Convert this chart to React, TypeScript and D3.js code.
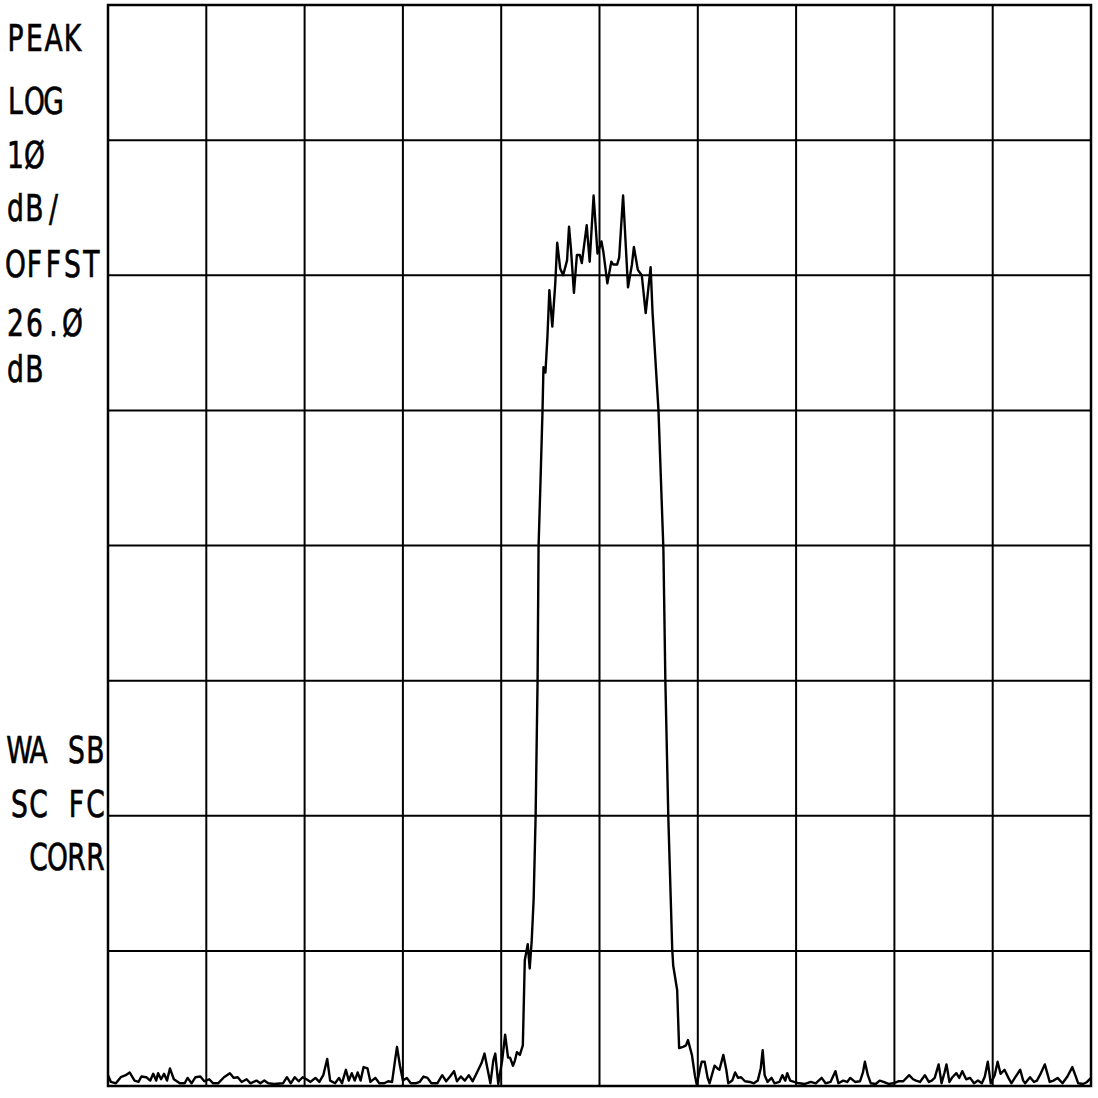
import * as d3 from "d3";

// trace: frequency in divisions (0..10), level in dB below reference
const freqDiv = [
  0.00, 0.03, 0.08, 0.13, 0.18, 0.22, 0.27, 0.31, 0.34, 0.39, 0.43, 0.46, 0.49, 0.51, 0.54, 0.57, 0.60, 0.63, 0.67, 0.73,
  0.78, 0.81, 0.85, 0.89, 0.94, 0.98,
  1.03, 1.07, 1.12, 1.18, 1.24, 1.28, 1.32, 1.36, 1.41, 1.45, 1.51, 1.55, 1.59, 1.63, 1.69, 1.78, 1.82, 1.86, 1.90, 1.94, 1.98,
  2.02, 2.06, 2.11, 2.15, 2.19, 2.23, 2.26, 2.31, 2.35, 2.38, 2.42, 2.45, 2.48, 2.51, 2.54, 2.57, 2.60, 2.64, 2.67, 2.72,
  2.76, 2.81, 2.85, 2.89, 2.92, 2.94, 2.97, 3.00,
  3.04, 3.08, 3.13, 3.17, 3.21, 3.25, 3.29, 3.35, 3.40, 3.44, 3.48, 3.52, 3.55, 3.59, 3.63, 3.67, 3.71, 3.75, 3.80, 3.83,
  3.86, 3.89, 3.92, 3.94, 3.97, 4.01, 4.04, 4.07, 4.09, 4.12, 4.14, 4.16, 4.19, 4.22, 4.24, 4.27, 4.29, 4.31, 4.33, 4.35,
  4.37, 4.38, 4.40, 4.42, 4.43, 4.45, 4.47, 4.49, 4.52, 4.55, 4.57, 4.60, 4.63, 4.67, 4.69, 4.71, 4.74, 4.77, 4.80, 4.82,
  4.87, 4.90, 4.94, 4.98, 5.02, 5.04, 5.08, 5.12, 5.14, 5.18, 5.20, 5.24, 5.29, 5.33, 5.35, 5.39, 5.43, 5.47, 5.52, 5.54,
  5.60, 5.65, 5.67, 5.70, 5.74, 5.75, 5.79, 5.81, 5.85, 5.88, 5.90, 5.94, 5.97, 5.99,
  6.02, 6.04, 6.07, 6.10, 6.12, 6.17, 6.20, 6.22, 6.26, 6.29, 6.31, 6.35, 6.38, 6.41, 6.44, 6.48, 6.53, 6.57, 6.61, 6.64,
  6.66, 6.68, 6.71, 6.75, 6.78, 6.83, 6.86, 6.89, 6.91, 6.94, 6.98,
  7.03, 7.09, 7.15, 7.20, 7.26, 7.30, 7.35, 7.40, 7.43, 7.48, 7.52, 7.55, 7.60, 7.65, 7.68, 7.70, 7.73, 7.76, 7.81, 7.85,
  7.89, 7.94, 7.99,
  8.04, 8.09, 8.15, 8.19, 8.22, 8.26, 8.31, 8.35, 8.38, 8.41, 8.45, 8.48, 8.51, 8.53, 8.56, 8.59, 8.63, 8.66, 8.69, 8.73,
  8.77, 8.81, 8.85, 8.89, 8.92, 8.95, 8.98,
  9.02, 9.05, 9.08, 9.12, 9.16, 9.19, 9.23, 9.28, 9.31, 9.33, 9.38, 9.42, 9.45, 9.48, 9.53, 9.58, 9.62, 9.66, 9.71, 9.76,
  9.81, 9.84, 9.87, 9.92, 9.96, 10.00,
];

const levelDb = [
  -79.2, -79.7, -79.8, -79.35, -79.2, -79.0, -79.6, -79.7, -79.3, -79.35, -79.6, -79.1, -79.6, -79.05, -79.5, -79.1, -79.6, -78.7, -79.5, -79.8,
  -79.8, -79.4, -79.8, -79.35, -79.3, -79.65,
  -79.5, -79.8, -79.8, -79.35, -79.05, -79.4, -79.35, -79.7, -79.5, -79.8, -79.6, -79.8, -79.6, -79.8, -79.85, -79.8, -79.35, -79.8, -79.35, -79.65, -79.35,
  -79.5, -79.7, -79.4, -79.7, -79.2, -78.0, -79.6, -79.8, -79.4, -79.8, -78.8, -79.6, -79.05, -79.6, -79.0, -79.6, -78.6, -78.7, -79.7, -79.4,
  -79.8, -79.8, -79.65, -79.7, -78.1, -77.1, -78.5, -79.6,
  -79.4, -79.8, -79.8, -79.7, -79.3, -79.4, -79.8, -79.8, -79.2, -79.65, -79.3, -78.9, -79.65, -79.3, -79.6, -79.2, -79.65, -79.05, -78.3, -77.6,
  -78.7, -79.8, -78.1, -77.6, -79.85, -78.1, -76.2, -77.9, -77.9, -78.5, -78.1, -77.5, -77.7, -77.0, -70.7, -69.5, -71.3, -69.3, -66.2, -60.1,
  -50.0, -40.1, -35.2, -30.1, -26.8, -27.2, -24.6, -21.1, -23.8, -20.6, -17.6, -19.5, -20.0, -18.9, -16.4, -18.1, -21.3, -18.5, -18.5, -19.1,
  -16.3, -19.0, -14.1, -18.4, -17.5, -18.3, -20.6, -19.0, -19.2, -19.2, -18.7, -14.1, -20.9, -19.2, -17.9, -19.6, -20.0, -22.8, -19.4, -22.8,
  -30.0, -40.3, -50.0, -60.1, -69.9, -71.1, -72.9, -77.2, -77.1, -77.0, -76.6, -77.7, -79.2, -79.9,
  -78.8, -78.2, -78.2, -79.4, -79.8, -78.5, -78.7, -78.8, -77.7, -78.8, -79.8, -79.6, -79.0, -79.4, -79.35, -79.65, -79.7, -79.8, -79.6, -78.7,
  -77.35, -79.2, -79.7, -79.4, -79.8, -79.7, -79.2, -79.6, -79.05, -79.6, -79.7,
  -79.8, -79.85, -79.7, -79.8, -79.4, -79.8, -79.7, -78.9, -79.8, -79.6, -79.7, -79.4, -79.7, -79.65, -79.0, -78.2, -79.2, -79.8, -79.85, -79.6,
  -79.7, -79.85, -79.8,
  -79.65, -79.65, -79.2, -79.5, -79.6, -79.7, -79.2, -79.7, -79.6, -79.4, -78.4, -79.8, -79.0, -78.4, -79.7, -79.35, -79.05, -79.4, -78.9, -79.5,
  -79.4, -79.8, -79.6, -79.8, -79.3, -78.2, -79.8,
  -79.2, -78.2, -79.1, -78.8, -79.4, -79.8, -79.35, -78.8, -79.6, -79.8, -79.35, -79.7, -79.6, -79.2, -78.4, -79.7, -79.6, -79.4, -79.8, -79.3,
  -78.6, -79.2, -79.8, -79.85, -79.7, -79.4,
];

const topLabels = ["PEAK", "LOG", "1Ø", "dB/", "OFFST", "26.Ø", "dB"];
const bottomLabels = ["WA SB", "SC FC", "CORR"];

// monospaced plotter lettering: each character centred in its own cell
function PlotText({ text, x0, y, cell, sx }: { text: string; x0: number; y: number; cell: number; sx: number }) {
  const xs = text.split("").map((_, i) => (x0 + cell * (i + 0.5)) / sx);
  return (
    <text transform={`scale(${sx},1)`} x={xs.join(" ")} y={y} textAnchor="middle">
      {text}
    </text>
  );
}

export default function App() {
  const width = 1098;
  const height = 1098;
  const left = 108;
  const right = 1091;
  const top = 5;
  const bottom = 1086;

  const x = d3.scaleLinear([0, 10], [left, right]);
  const y = d3.scaleLinear([-80, 0], [bottom, top]);
  const line = d3.line<number>((_, i) => x(freqDiv[i]), (d) => y(d));

  const topBase = [51, 114, 168, 221, 277, 336, 382];
  const bottomBase = [763, 817, 870];
  const cell = 19;
  const sx = 0.7;

  return (
    <svg width={width} height={height} style={{ position: "absolute", left: 0, top: 0, background: "#fff" }}>
      <g stroke="#000" strokeWidth={2}>
        {d3.range(0, 11).map((d) => (
          <line key={"v" + d} x1={x(d)} x2={x(d)} y1={top} y2={bottom} />
        ))}
        {d3.range(-80, 1, 10).map((d) => (
          <line key={"h" + d} x1={left} x2={right} y1={y(d)} y2={y(d)} />
        ))}
      </g>
      <rect x={left} y={top} width={right - left} height={bottom - top} fill="none" stroke="#000" strokeWidth={2.5} />
      <path d={line(levelDb) ?? ""} fill="none" stroke="#000" strokeWidth={2.4} strokeLinejoin="round" />
      <g fontFamily="'DejaVu Sans', sans-serif" fontSize={38} fill="#000" stroke="#000" strokeWidth={0.7}>
        {topLabels.map((t, i) => (
          <PlotText key={t + i} text={t} x0={6} y={topBase[i]} cell={cell} sx={sx} />
        ))}
        {bottomLabels.map((t, i) => (
          <PlotText key={t} text={t} x0={105 - t.length * cell} y={bottomBase[i]} cell={cell} sx={sx} />
        ))}
      </g>
    </svg>
  );
}
